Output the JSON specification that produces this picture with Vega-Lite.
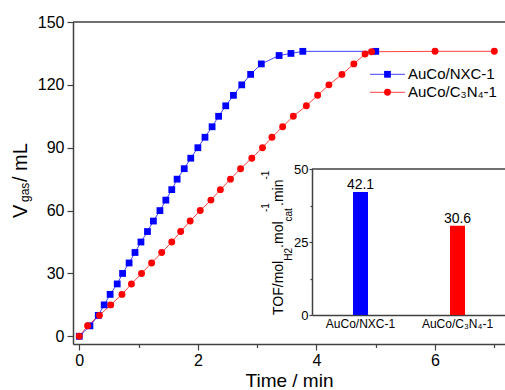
{
  "$schema": "https://vega.github.io/schema/vega-lite/v6.json",
  "width": 432,
  "height": 322,
  "autosize": {"type": "none"},
  "padding": {"left": 73, "top": 22, "right": 0, "bottom": 46},
  "background": "white",
  "config": {
    "view": {"stroke": null},
    "font": "Liberation Sans",
    "axis": {"domainColor": "#404040", "domainWidth": 1.5, "tickColor": "#404040", "tickWidth": 1.2, "labelColor": "black", "titleColor": "black", "grid": false, "labelFont": "Liberation Sans", "titleFont": "Liberation Sans", "titleFontWeight": "normal", "labelFlush": false, "labelOverlap": false}
  },
  "datasets": {
    "kinetics": [
      {"catalyst": "AuCo/NXC-1", "time": 0, "volume": 0},
      {"catalyst": "AuCo/NXC-1", "time": 0.18, "volume": 5},
      {"catalyst": "AuCo/NXC-1", "time": 0.32, "volume": 10},
      {"catalyst": "AuCo/NXC-1", "time": 0.42, "volume": 15},
      {"catalyst": "AuCo/NXC-1", "time": 0.52, "volume": 20},
      {"catalyst": "AuCo/NXC-1", "time": 0.64, "volume": 25},
      {"catalyst": "AuCo/NXC-1", "time": 0.73, "volume": 30},
      {"catalyst": "AuCo/NXC-1", "time": 0.84, "volume": 35},
      {"catalyst": "AuCo/NXC-1", "time": 0.94, "volume": 40},
      {"catalyst": "AuCo/NXC-1", "time": 1.04, "volume": 45},
      {"catalyst": "AuCo/NXC-1", "time": 1.15, "volume": 50},
      {"catalyst": "AuCo/NXC-1", "time": 1.25, "volume": 55},
      {"catalyst": "AuCo/NXC-1", "time": 1.36, "volume": 60},
      {"catalyst": "AuCo/NXC-1", "time": 1.46, "volume": 65},
      {"catalyst": "AuCo/NXC-1", "time": 1.56, "volume": 70},
      {"catalyst": "AuCo/NXC-1", "time": 1.65, "volume": 75},
      {"catalyst": "AuCo/NXC-1", "time": 1.77, "volume": 80},
      {"catalyst": "AuCo/NXC-1", "time": 1.88, "volume": 85},
      {"catalyst": "AuCo/NXC-1", "time": 2.0, "volume": 90},
      {"catalyst": "AuCo/NXC-1", "time": 2.12, "volume": 95},
      {"catalyst": "AuCo/NXC-1", "time": 2.24, "volume": 100},
      {"catalyst": "AuCo/NXC-1", "time": 2.35, "volume": 105},
      {"catalyst": "AuCo/NXC-1", "time": 2.47, "volume": 110},
      {"catalyst": "AuCo/NXC-1", "time": 2.6, "volume": 115},
      {"catalyst": "AuCo/NXC-1", "time": 2.74, "volume": 120},
      {"catalyst": "AuCo/NXC-1", "time": 2.89, "volume": 125},
      {"catalyst": "AuCo/NXC-1", "time": 3.07, "volume": 130},
      {"catalyst": "AuCo/NXC-1", "time": 3.37, "volume": 134},
      {"catalyst": "AuCo/NXC-1", "time": 3.57, "volume": 135},
      {"catalyst": "AuCo/NXC-1", "time": 3.77, "volume": 136},
      {"catalyst": "AuCo/NXC-1", "time": 5.0, "volume": 136},
      {"catalyst": "AuCo/C₃N₄-1", "time": 0, "volume": 0},
      {"catalyst": "AuCo/C₃N₄-1", "time": 0.14, "volume": 5},
      {"catalyst": "AuCo/C₃N₄-1", "time": 0.34, "volume": 10},
      {"catalyst": "AuCo/C₃N₄-1", "time": 0.53, "volume": 15},
      {"catalyst": "AuCo/C₃N₄-1", "time": 0.72, "volume": 20},
      {"catalyst": "AuCo/C₃N₄-1", "time": 0.88, "volume": 25},
      {"catalyst": "AuCo/C₃N₄-1", "time": 1.05, "volume": 30},
      {"catalyst": "AuCo/C₃N₄-1", "time": 1.22, "volume": 35},
      {"catalyst": "AuCo/C₃N₄-1", "time": 1.39, "volume": 40},
      {"catalyst": "AuCo/C₃N₄-1", "time": 1.56, "volume": 45},
      {"catalyst": "AuCo/C₃N₄-1", "time": 1.71, "volume": 50},
      {"catalyst": "AuCo/C₃N₄-1", "time": 1.87, "volume": 55},
      {"catalyst": "AuCo/C₃N₄-1", "time": 2.04, "volume": 60},
      {"catalyst": "AuCo/C₃N₄-1", "time": 2.22, "volume": 65},
      {"catalyst": "AuCo/C₃N₄-1", "time": 2.38, "volume": 70},
      {"catalyst": "AuCo/C₃N₄-1", "time": 2.55, "volume": 75},
      {"catalyst": "AuCo/C₃N₄-1", "time": 2.72, "volume": 80},
      {"catalyst": "AuCo/C₃N₄-1", "time": 2.91, "volume": 85},
      {"catalyst": "AuCo/C₃N₄-1", "time": 3.09, "volume": 90},
      {"catalyst": "AuCo/C₃N₄-1", "time": 3.25, "volume": 95},
      {"catalyst": "AuCo/C₃N₄-1", "time": 3.43, "volume": 100},
      {"catalyst": "AuCo/C₃N₄-1", "time": 3.61, "volume": 105},
      {"catalyst": "AuCo/C₃N₄-1", "time": 3.83, "volume": 110},
      {"catalyst": "AuCo/C₃N₄-1", "time": 4.02, "volume": 115},
      {"catalyst": "AuCo/C₃N₄-1", "time": 4.21, "volume": 120},
      {"catalyst": "AuCo/C₃N₄-1", "time": 4.43, "volume": 125},
      {"catalyst": "AuCo/C₃N₄-1", "time": 4.63, "volume": 130},
      {"catalyst": "AuCo/C₃N₄-1", "time": 4.82, "volume": 134.7},
      {"catalyst": "AuCo/C₃N₄-1", "time": 4.93, "volume": 135.8},
      {"catalyst": "AuCo/C₃N₄-1", "time": 6.0, "volume": 136},
      {"catalyst": "AuCo/C₃N₄-1", "time": 7.0, "volume": 136}
    ],
    "tof": [
      {"catalyst": "AuCo/NXC-1", "tof": 42.1},
      {"catalyst": "AuCo/C₃N₄-1", "tof": 30.6}
    ],
    "series": [
      {"catalyst": "AuCo/NXC-1"},
      {"catalyst": "AuCo/C₃N₄-1"}
    ]
  },
  "layer": [
    {
      "layer": [
        {
          "data": {"name": "kinetics"},
          "mark": {"type": "line", "strokeWidth": 1, "opacity": 0.75},
          "encoding": {
            "x": {"field": "time", "type": "quantitative", "scale": {"domain": [-0.106, 7.18], "nice": false, "zero": false},
              "axis": {"title": "Time / min", "values": [0, 1, 2, 3, 4, 5, 6, 7], "format": "d", "labelExpr": "datum.value % 2 ? '' : datum.label",
                "tickSize": {"condition": {"test": "datum.value % 2 === 0", "value": 6}, "value": 3.5},
                "labelFontSize": 16, "labelPadding": 2, "titleFontSize": 19, "titlePadding": 3}},
            "y": {"field": "volume", "type": "quantitative", "scale": {"domain": [-3.67, 150], "nice": false, "zero": false},
              "axis": {"title": null, "values": [0, 15, 30, 45, 60, 75, 90, 105, 120, 135, 150], "labelExpr": "datum.value % 30 ? '' : datum.label",
                "tickSize": {"condition": {"test": "datum.value % 30 === 0", "value": 6}, "value": 3.5},
                "labelFontSize": 16, "labelPadding": 3}},
            "color": {"field": "catalyst", "type": "nominal", "sort": null, "scale": {"domain": ["AuCo/NXC-1", "AuCo/C₃N₄-1"], "range": ["#0000ff", "#ff0000"]}, "legend": null}
          }
        },
        {
          "data": {"name": "kinetics"},
          "transform": [{"filter": {"field": "catalyst", "equal": "AuCo/NXC-1"}}],
          "mark": {"type": "point", "shape": "square", "filled": true, "size": 46, "opacity": 1},
          "encoding": {
            "x": {"field": "time", "type": "quantitative"},
            "y": {"field": "volume", "type": "quantitative"},
            "color": {"field": "catalyst", "type": "nominal", "sort": null, "legend": null}
          }
        },
        {
          "data": {"name": "kinetics"},
          "transform": [{"filter": {"field": "catalyst", "equal": "AuCo/C₃N₄-1"}}],
          "mark": {"type": "point", "shape": "circle", "filled": true, "size": 48, "opacity": 1},
          "encoding": {
            "x": {"field": "time", "type": "quantitative"},
            "y": {"field": "volume", "type": "quantitative"},
            "color": {"field": "catalyst", "type": "nominal", "sort": null, "legend": null}
          }
        },
        {
          "data": {"values": [{}]},
          "mark": {"type": "rule", "color": "#404040", "strokeWidth": 1.5},
          "encoding": {"y": {"datum": 150, "type": "quantitative"}}
        },
        {
          "data": {"values": [{}]},
          "mark": {"type": "text", "text": "V", "angle": 270, "align": "left", "baseline": "alphabetic", "fontSize": 20, "font": "Liberation Sans", "color": "black"},
          "encoding": {"x": {"datum": -0.882, "type": "quantitative"}, "y": {"datum": 56.5, "type": "quantitative"}}
        },
        {
          "data": {"values": [{}]},
          "mark": {"type": "text", "text": "gas", "angle": 270, "align": "left", "baseline": "alphabetic", "fontSize": 12, "font": "Liberation Sans", "color": "black"},
          "encoding": {"x": {"datum": -0.84, "type": "quantitative"}, "y": {"datum": 64.1, "type": "quantitative"}}
        },
        {
          "data": {"values": [{}]},
          "mark": {"type": "text", "text": "/ mL", "angle": 270, "align": "left", "baseline": "alphabetic", "fontSize": 20, "font": "Liberation Sans", "color": "black"},
          "encoding": {"x": {"datum": -0.882, "type": "quantitative"}, "y": {"datum": 73.6, "type": "quantitative"}}
        },
        {
          "data": {"values": [{}]},
          "mark": {"type": "text", "text": "TOF/mol", "angle": 270, "align": "left", "baseline": "alphabetic", "fontSize": 14, "font": "Liberation Sans", "color": "black"},
          "encoding": {"x": {"datum": 3.436, "type": "quantitative"}, "y": {"datum": 10.17, "type": "quantitative"}}
        },
        {
          "data": {"values": [{}]},
          "mark": {"type": "text", "text": "H2", "angle": 270, "align": "left", "baseline": "alphabetic", "fontSize": 10, "font": "Liberation Sans", "color": "black"},
          "encoding": {"x": {"datum": 3.587, "type": "quantitative"}, "y": {"datum": 36.1, "type": "quantitative"}}
        },
        {
          "data": {"values": [{}]},
          "mark": {"type": "text", "text": ".mol", "angle": 270, "align": "left", "baseline": "alphabetic", "fontSize": 14, "font": "Liberation Sans", "color": "black"},
          "encoding": {"x": {"datum": 3.436, "type": "quantitative"}, "y": {"datum": 42.2, "type": "quantitative"}}
        },
        {
          "data": {"values": [{}]},
          "mark": {"type": "text", "text": "cat", "angle": 270, "align": "left", "baseline": "alphabetic", "fontSize": 10, "font": "Liberation Sans", "color": "black"},
          "encoding": {"x": {"datum": 3.587, "type": "quantitative"}, "y": {"datum": 54.8, "type": "quantitative"}}
        },
        {
          "data": {"values": [{}]},
          "mark": {"type": "text", "text": "-1", "angle": 270, "align": "left", "baseline": "alphabetic", "fontSize": 10, "font": "Liberation Sans", "color": "black"},
          "encoding": {"x": {"datum": 3.199, "type": "quantitative"}, "y": {"datum": 59.3, "type": "quantitative"}}
        },
        {
          "data": {"values": [{}]},
          "mark": {"type": "text", "text": ".min", "angle": 270, "align": "left", "baseline": "alphabetic", "fontSize": 14, "font": "Liberation Sans", "color": "black"},
          "encoding": {"x": {"datum": 3.436, "type": "quantitative"}, "y": {"datum": 62.2, "type": "quantitative"}}
        },
        {
          "data": {"values": [{}]},
          "mark": {"type": "text", "text": "-1", "angle": 270, "align": "left", "baseline": "alphabetic", "fontSize": 10, "font": "Liberation Sans", "color": "black"},
          "encoding": {"x": {"datum": 3.199, "type": "quantitative"}, "y": {"datum": 74.8, "type": "quantitative"}}
        }
      ]
    },
    {
      "data": {"name": "tof"},
      "encoding": {
        "x": {"field": "catalyst", "type": "nominal", "sort": null,
          "scale": {"domain": ["AuCo/NXC-1", "AuCo/C₃N₄-1"], "range": [239, 433], "paddingInner": 0, "paddingOuter": 0},
          "axis": {"orient": "bottom", "offset": -29, "title": null, "ticks": false, "labelAngle": 0, "labelFontSize": 12, "labelPadding": 3}},
        "y": {"field": "tof", "type": "quantitative",
          "scale": {"domain": [0, 50], "range": [293, 147], "nice": false, "zero": false},
          "axis": {"orient": "left", "offset": -239, "title": null, "values": [0, 12.5, 25, 37.5, 50], "labelExpr": "datum.value % 25 ? '' : datum.label",
            "tickSize": {"condition": {"test": "datum.value % 25 === 0", "value": 3}, "value": 2}, "labelFontSize": 13, "labelPadding": 1}}
      },
      "layer": [
        {
          "mark": {"type": "bar", "size": 15},
          "encoding": {"color": {"field": "catalyst", "type": "nominal", "sort": null, "scale": {"domain": ["AuCo/NXC-1", "AuCo/C₃N₄-1"], "range": ["#0000ff", "#ff0000"]}, "legend": null}}
        },
        {
          "mark": {"type": "text", "dy": -3, "baseline": "alphabetic", "fontSize": 14, "font": "Liberation Sans", "color": "black"},
          "encoding": {"text": {"field": "tof", "type": "quantitative", "format": ".1f"}}
        }
      ]
    },
    {
      "data": {"values": [{}]},
      "mark": {"type": "rule", "color": "#404040", "strokeWidth": 1.5},
      "encoding": {
        "x": {"datum": 0, "type": "quantitative", "scale": {"domain": [0, 1], "range": [239, 433], "nice": false}, "axis": null},
        "x2": {"datum": 1},
        "y": {"datum": 50, "type": "quantitative", "scale": {"domain": [0, 50], "range": [293, 147], "nice": false}, "axis": null}
      }
    },
    {
      "data": {"name": "series"},
      "encoding": {
        "y": {"field": "catalyst", "type": "nominal", "sort": null, "scale": {"type": "point", "domain": ["AuCo/NXC-1", "AuCo/C₃N₄-1"], "range": [52.3, 70.3], "padding": 0}, "axis": null},
        "color": {"field": "catalyst", "type": "nominal", "sort": null, "scale": {"domain": ["AuCo/NXC-1", "AuCo/C₃N₄-1"], "range": ["#0000ff", "#ff0000"]}, "legend": null}
      },
      "layer": [
        {
          "mark": {"type": "rule", "strokeWidth": 1, "opacity": 0.75},
          "encoding": {
            "x": {"datum": 0, "type": "quantitative", "scale": {"domain": [0, 1], "range": [297, 432], "nice": false}, "axis": null},
            "x2": {"datum": 0.2593}
          }
        },
        {
          "transform": [{"filter": {"field": "catalyst", "equal": "AuCo/NXC-1"}}],
          "mark": {"type": "point", "shape": "square", "filled": true, "size": 46, "opacity": 1},
          "encoding": {"x": {"datum": 0.1296, "type": "quantitative"}}
        },
        {
          "transform": [{"filter": {"field": "catalyst", "equal": "AuCo/C₃N₄-1"}}],
          "mark": {"type": "point", "shape": "circle", "filled": true, "size": 48, "opacity": 1},
          "encoding": {"x": {"datum": 0.1296, "type": "quantitative"}}
        },
        {
          "mark": {"type": "text", "align": "left", "baseline": "middle", "fontSize": 15, "font": "Liberation Sans", "color": "black"},
          "encoding": {
            "x": {"datum": 0.2815, "type": "quantitative"},
            "text": {"field": "catalyst", "type": "nominal"},
            "color": {"value": "black"}
          }
        }
      ]
    }
  ],
  "resolve": {
    "scale": {"x": "independent", "y": "independent", "color": "independent"},
    "axis": {"x": "independent", "y": "independent"},
    "legend": {"color": "independent"}
  }
}
